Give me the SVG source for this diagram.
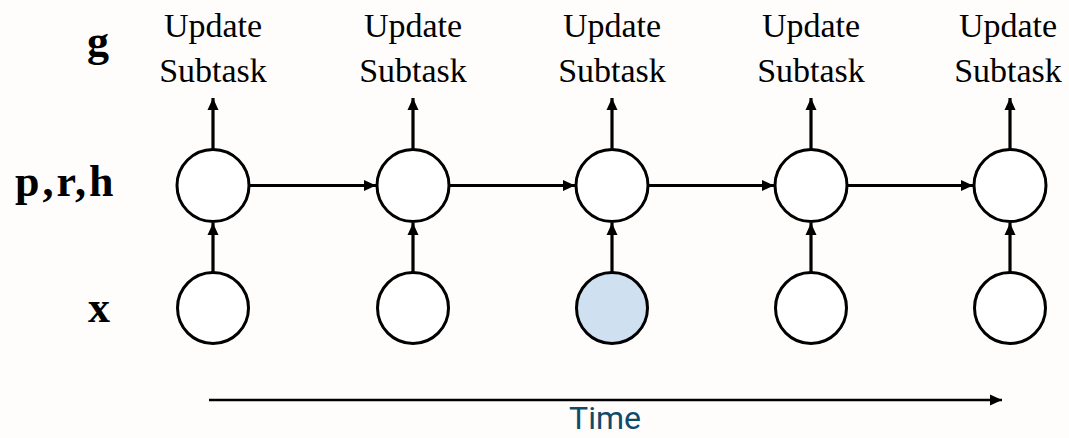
<svg xmlns="http://www.w3.org/2000/svg" width="1069" height="438" viewBox="0 0 1069 438">
<defs>
<marker id="ah" markerUnits="userSpaceOnUse" markerWidth="12" markerHeight="12" viewBox="0 0 12 12" refX="12" refY="6" orient="auto">
<path d="M0,0.5 L12,6 L0,11.5 Z" fill="#000"/>
</marker>
<style>
.n{fill:#fff;stroke:#000;stroke-width:3}
.hl{fill:#cfe0f1}
.c{stroke:#000;stroke-width:3.2;fill:none;marker-end:url(#ah)}
.lbl{font-family:"Liberation Serif",serif;font-size:34px;fill:#000;text-anchor:middle}
.var{font-family:"Liberation Serif",serif;font-weight:bold;font-size:44px;fill:#000}
.time{font-family:Roboto,"Liberation Sans",sans-serif;font-size:32px;fill:#0f4a6a;text-anchor:middle}
</style>
</defs>
<rect width="1069" height="438" fill="#fefdfc"/>
<g id="row-labels">
<text class="var" x="87" y="56">g</text>
<text class="var" x="15" y="196" style="letter-spacing:3px">p,r,h</text>
<text class="var" x="88" y="322">x</text>
</g>
<g id="labels">
<text class="lbl" x="213" y="37">Update</text><text class="lbl" x="213" y="82">Subtask</text>
<text class="lbl" x="413" y="37">Update</text><text class="lbl" x="413" y="82">Subtask</text>
<text class="lbl" x="612" y="37">Update</text><text class="lbl" x="612" y="82">Subtask</text>
<text class="lbl" x="811" y="37">Update</text><text class="lbl" x="811" y="82">Subtask</text>
<text class="lbl" x="1008" y="37">Update</text><text class="lbl" x="1008" y="82">Subtask</text>
</g>
<g id="connectors">
<line class="c" x1="213" y1="149" x2="213" y2="98"/>
<line class="c" x1="413" y1="149" x2="413" y2="98"/>
<line class="c" x1="612" y1="149" x2="612" y2="98"/>
<line class="c" x1="811" y1="149" x2="811" y2="98"/>
<line class="c" x1="1010" y1="149" x2="1010" y2="98"/>
<line class="c" x1="213" y1="272" x2="213" y2="223"/>
<line class="c" x1="413" y1="272" x2="413" y2="223"/>
<line class="c" x1="612" y1="272" x2="612" y2="223"/>
<line class="c" x1="811" y1="272" x2="811" y2="223"/>
<line class="c" x1="1010" y1="272" x2="1010" y2="223"/>
<line class="c" x1="250" y1="185.5" x2="376" y2="185.5"/>
<line class="c" x1="450" y1="185.5" x2="575" y2="185.5"/>
<line class="c" x1="649" y1="185.5" x2="774" y2="185.5"/>
<line class="c" x1="848" y1="185.5" x2="973" y2="185.5"/>
<line class="c" style="stroke-width:2.5" x1="209" y1="400" x2="1002" y2="400"/>
</g>
<g id="node-h1"><circle class="n" cx="213" cy="185.5" r="36"/></g>
<g id="node-h2"><circle class="n" cx="413" cy="185.5" r="36"/></g>
<g id="node-h3"><circle class="n" cx="612" cy="185.5" r="36"/></g>
<g id="node-h4"><circle class="n" cx="811" cy="185.5" r="36"/></g>
<g id="node-h5"><circle class="n" cx="1010" cy="185.5" r="36"/></g>
<g id="node-x1"><circle class="n" cx="213" cy="308" r="35.5"/></g>
<g id="node-x2"><circle class="n" cx="413" cy="308" r="35.5"/></g>
<g id="node-x3"><circle class="n hl" cx="612" cy="308" r="35.5"/></g>
<g id="node-x4"><circle class="n" cx="811" cy="308" r="35.5"/></g>
<g id="node-x5"><circle class="n" cx="1010" cy="308" r="35.5"/></g>
<g id="time-label"><text class="time" x="605" y="429">Time</text></g>
</svg>
